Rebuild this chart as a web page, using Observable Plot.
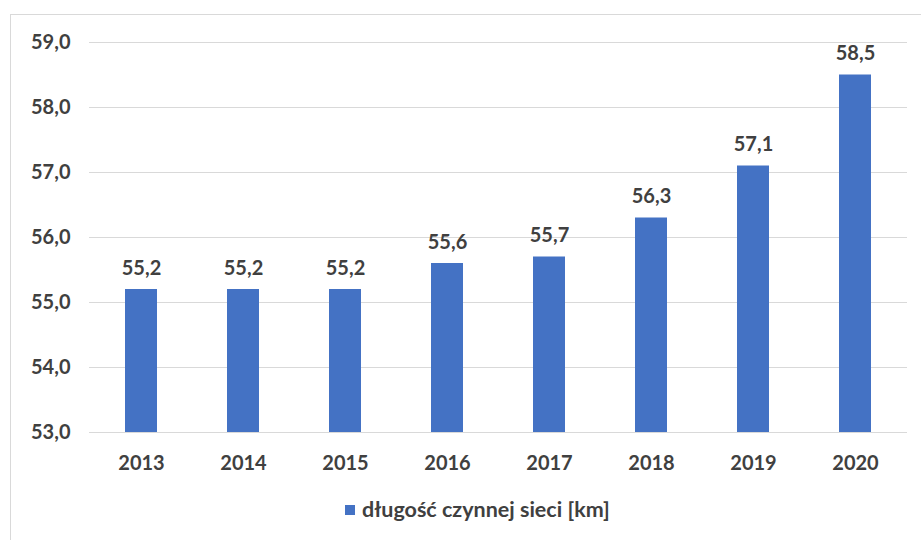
<!DOCTYPE html>
<html>
<head>
<meta charset="utf-8">
<script src="https://cdn.jsdelivr.net/npm/d3@7"></script>
<script src="https://cdn.jsdelivr.net/npm/@observablehq/plot@0.6"></script>
<style>
  html, body { margin: 0; padding: 0; background: #fff; width: 921px; height: 540px; overflow: hidden; }
  #frame { position: absolute; left: 10px; top: 14px; width: 940px; height: 560px; border: 1px solid #d9d9d9; box-sizing: border-box; }
  #chart { position: absolute; left: 0; top: 0; }
  #legend { position: absolute; top: 496px; left: 345px; white-space: nowrap; font-family: Lato, "Open Sans", sans-serif; font-weight: bold; font-size: 21.5px; line-height: 26px; color: #404040; }
  #legend .sw { display: inline-block; width: 10px; height: 10px; background: #4472C4; margin-right: 7px; vertical-align: 2px; }
</style>
</head>
<body>
<div id="frame"></div>
<div id="chart"></div>
<div id="legend"><span class="sw"></span><span id="lname"></span></div>
<script>
const years = ["2013","2014","2015","2016","2017","2018","2019","2020"];
const values = [55.2, 55.2, 55.2, 55.6, 55.7, 56.3, 57.1, 58.5];
const yTicks = [53, 54, 55, 56, 57, 58, 59];
const seriesName = "długość czynnej sieci [km]";

document.getElementById("lname").textContent = seriesName;

const data = years.map((y, i) => ({year: y, value: values[i]}));
const fmt = v => d3.format(".1f")(v).replace(".", ",");

const chart = Plot.plot({
  width: 921,
  height: 490,
  marginLeft: 89,
  marginRight: 14,
  marginTop: 42,
  marginBottom: 58,
  style: { fontFamily: "Lato, 'Open Sans', sans-serif", fontSize: "20px", fontWeight: "bold", color: "#404040", background: "transparent" },
  x: { domain: years, paddingInner: 0.687, paddingOuter: 0.34, label: null, tickSize: 0, tickPadding: 23 },
  y: { domain: [53, 59], ticks: yTicks, label: null, tickSize: 0, tickPadding: 19, tickFormat: fmt },
  marks: [
    Plot.gridY(yTicks, { stroke: "#d9d9d9", strokeOpacity: 1, strokeWidth: 1.2 }),
    Plot.barY(data, { x: "year", y1: 53, y2: "value", fill: "#4472C4" }),
    Plot.text(data, { x: "year", y: "value", text: d => fmt(d.value), dy: -21, fill: "#404040", fontWeight: "bold", fontSize: 20 })
  ]
});
document.getElementById("chart").appendChild(chart);
</script>
</body>
</html>
